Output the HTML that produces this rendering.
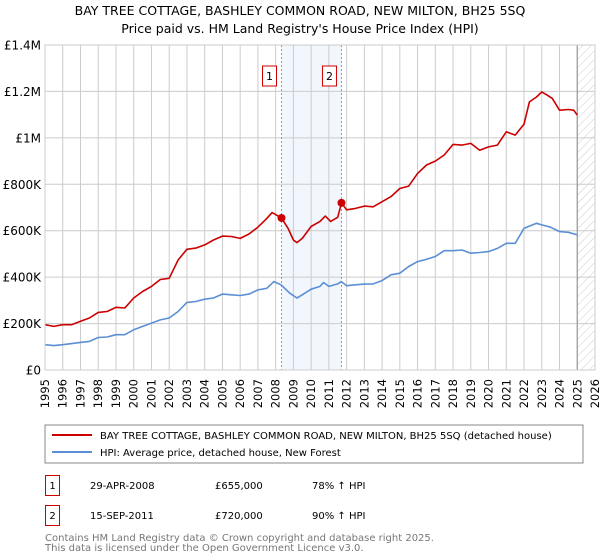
<!DOCTYPE html>
<html><head><meta charset="utf-8"><style>
body{margin:0;background:#fff;}
svg{display:block;font-family:"DejaVu Sans","Liberation Sans",sans-serif;}
</style></head><body>
<svg id="chart" width="600" height="560" viewBox="0 0 600 560">
<defs><pattern id="hatch" width="6" height="6" patternUnits="userSpaceOnUse" patternTransform="rotate(45)"><line x1="0" y1="0" x2="0" y2="6" stroke="#ccc" stroke-width="1"/></pattern></defs>
<text x="300" y="15" text-anchor="middle" font-size="12.5" fill="#000">BAY TREE COTTAGE, BASHLEY COMMON ROAD, NEW MILTON, BH25 5SQ</text>
<text x="300" y="33" text-anchor="middle" font-size="12.5" fill="#000">Price paid vs. HM Land Registry's House Price Index (HPI)</text>
<g id="plot"></g>
<rect x="45" y="425" width="538" height="38" fill="#fff" stroke="#888"/>
<line x1="52" y1="435" x2="92" y2="435" stroke="#cc0000" stroke-width="2"/>
<text x="100" y="439" font-size="10">BAY TREE COTTAGE, BASHLEY COMMON ROAD, NEW MILTON, BH25 5SQ (detached house)</text>
<line x1="52" y1="452" x2="92" y2="452" stroke="#5b8fd4" stroke-width="2"/>
<text x="100" y="456" font-size="10">HPI: Average price, detached house, New Forest</text>
<g font-size="10" fill="#000">
<rect x="45.5" y="475.5" width="14" height="20" fill="none" stroke="#cc0000"/>
<text x="52.5" y="489" text-anchor="middle">1</text>
<text x="90" y="489">29-APR-2008</text>
<text x="215" y="489">£655,000</text>
<text x="312" y="489">78% ↑ HPI</text>
<rect x="45.5" y="505.5" width="14" height="20" fill="none" stroke="#cc0000"/>
<text x="52.5" y="519" text-anchor="middle">2</text>
<text x="90" y="519">15-SEP-2011</text>
<text x="215" y="519">£720,000</text>
<text x="312" y="519">90% ↑ HPI</text>
</g>
<text x="45" y="541" font-size="10" fill="#777">Contains HM Land Registry data © Crown copyright and database right 2025.</text>
<text x="45" y="551" font-size="10" fill="#777">This data is licensed under the Open Government Licence v3.0.</text>
</svg>
<script>
const years=[1995,1996,1997,1998,1999,2000,2001,2002,2003,2004,2005,2006,2007,2008,2009,2010,2011,2012,2013,2014,2015,2016,2017,2018,2019,2020,2021,2022,2023,2024,2025,2026];
const yTicks=[0,200000,400000,600000,800000,1000000,1200000,1400000];
const yTickLabels=["£0","£200K","£400K","£600K","£800K","£1M","£1.2M","£1.4M"];
const propT=[1995,1995.5,1996,1996.5,1997,1997.5,1998,1998.5,1999,1999.5,2000,2000.5,2001,2001.5,2002,2002.5,2003,2003.5,2004,2004.5,2005,2005.5,2006,2006.5,2007,2007.5,2007.8,2008.33,2008.7,2009,2009.2,2009.5,2010,2010.5,2010.8,2011.1,2011.5,2011.71,2012,2012.5,2013,2013.5,2014,2014.5,2015,2015.5,2016,2016.5,2017,2017.5,2018,2018.5,2019,2019.5,2020,2020.5,2021,2021.5,2022,2022.3,2022.7,2023,2023.3,2023.6,2024,2024.5,2024.8,2025];
const propV=[195,188,195,195,210,224,248,252,270,267,310,338,360,390,395,474,520,525,539,560,577,575,567,586,615,653,678,655,610,560,549,567,618,640,663,640,658,720,690,696,706,703,725,747,782,792,847,883,900,926,972,969,976,947,961,969,1026,1012,1059,1155,1176,1198,1184,1169,1119,1122,1119,1098];
const hpiT=[1995,1995.5,1996,1997,1997.5,1998,1998.5,1999,1999.5,2000,2000.5,2001,2001.5,2002,2002.5,2003,2003.5,2004,2004.5,2005,2005.5,2006,2006.5,2007,2007.5,2007.9,2008.3,2008.8,2009.2,2009.5,2010,2010.5,2010.7,2011,2011.5,2011.7,2012,2012.5,2013,2013.5,2014,2014.5,2015,2015.5,2016,2016.5,2017,2017.5,2018,2018.5,2019,2019.5,2020,2020.5,2021,2021.5,2022,2022.3,2022.7,2023,2023.5,2024,2024.5,2025];
const hpiV=[109,105,109,119,123,140,142,152,152,173,188,202,216,224,252,291,295,305,310,327,324,321,327,345,352,381,367,331,310,324,348,360,377,360,371,381,363,367,370,371,385,410,417,446,467,477,489,514,514,517,503,506,510,524,546,546,610,620,632,625,615,596,593,582];
const saleT=[2008.33,2011.71];
const saleV=[655000,720000];
const saleLabels=["1","2"];

const NS="http://www.w3.org/2000/svg";
const X0=45,X1=595,Y0=370,Y1=45;
const xs=t=>X0+(t-1995)/(2026-1995)*(X1-X0);
const ys=v=>Y0-v/1400000*(Y0-Y1);
const g=document.getElementById('plot');
function mk(tag,attrs,parent){const e=document.createElementNS(NS,tag);for(const k in attrs)e.setAttribute(k,attrs[k]);(parent||g).appendChild(e);return e;}
let r=mk('rect',{x:xs(saleT[0]),y:Y1,width:xs(saleT[1])-xs(saleT[0]),height:Y0-Y1,fill:'#f2f6fd'});


r=mk('rect',{x:xs(2025),y:Y1,width:X1-xs(2025),height:Y0-Y1,fill:'url(#hatch)'});


years.forEach(y=>{
 const l=mk('line',{x1:xs(y),x2:xs(y),y1:Y1,y2:Y0,stroke:'#ccc','stroke-width':1});
 
 
 const t=mk('text',{x:0,y:0,'font-size':11.5,'text-anchor':'end',transform:`translate(${xs(y)+4},${Y0+9}) rotate(-90)`});
 t.textContent=y;
 
 
});
yTicks.forEach((v,i)=>{
 const l=mk('line',{x1:X0,x2:X1,y1:ys(v),y2:ys(v),stroke:'#ccc','stroke-width':1});
 
 
 const t=mk('text',{x:X0-4,y:ys(v)+4.5,'font-size':12,'text-anchor':'end'});
 t.textContent=yTickLabels[i];
 
 
});
let vl=mk('line',{x1:xs(2025),x2:xs(2025),y1:Y1,y2:Y0,stroke:'#999','stroke-width':1.2});


saleT.forEach((t,i)=>{
 const l=mk('line',{x1:xs(t),x2:xs(t),y1:Y1,y2:Y0,stroke:'#f07070','stroke-width':1,'stroke-dasharray':'2,2'});
 
 
 const b=mk('rect',{x:xs(t)-19,y:66,width:14,height:20,fill:'#fff',stroke:'#cc0000'});
 
 
 const tx=mk('text',{x:xs(t)-12,y:80,'font-size':11,'text-anchor':'middle'});
 tx.textContent=saleLabels[i];
 
 
});
function line(T,V,color,name){
 const p=mk('path',{d:T.map((t,i)=>(i?'L':'M')+xs(t).toFixed(1)+','+ys(V[i]*1000).toFixed(1)).join(''),fill:'none',stroke:color,'stroke-width':1.6,'stroke-linejoin':'round'});
 
 
}
line(hpiT,hpiV,'#5b8fd4','hpi-line');
line(propT,propV,'#cc0000','property-line');
saleT.forEach((t,i)=>{
 const c=mk('circle',{cx:xs(t),cy:ys(saleV[i]),r:4,fill:'#cc0000'});
 
 
});
let bd=mk('rect',{x:X0,y:Y1,width:X1-X0,height:Y0-Y1,fill:'none',stroke:'#ccc'});


</script>
</body></html>
